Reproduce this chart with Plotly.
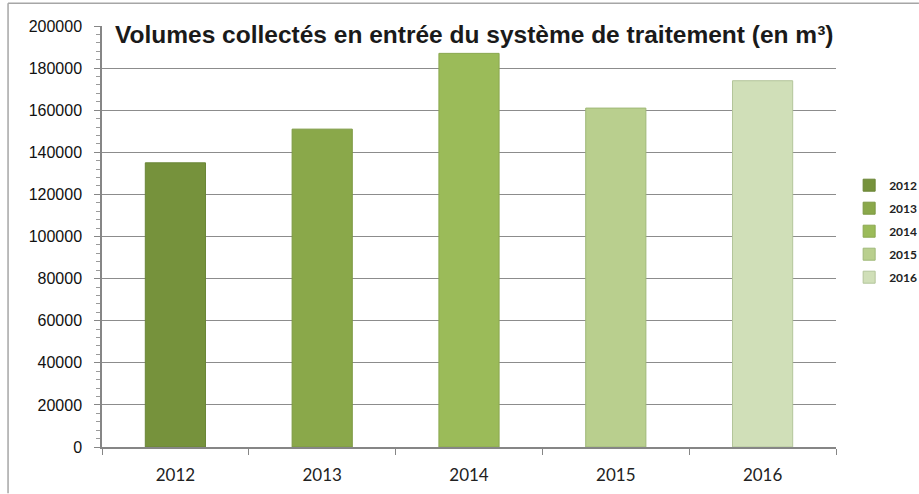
import plotly.graph_objects as go

years = ["2012", "2013", "2014", "2015", "2016"]
volumes = [135000, 151000, 187000, 161000, 174000]
colors = ["#76923C", "#8AA84A", "#9BBB59", "#B9CF8E", "#D0DFB8"]
edge_colors = ["#6A8536", "#7C9842", "#8BA850", "#9FB878", "#B3C59A"]
title_text = "Volumes collectés en entrée du système de traitement (en m³)"
y_ticks = [0, 20000, 40000, 60000, 80000, 100000, 120000, 140000, 160000, 180000, 200000]

fig = go.Figure()
for i, yr in enumerate(years):
    fig.add_trace(go.Bar(
        x=[yr], y=[volumes[i]], name=yr, width=0.41,
        marker=dict(color=colors[i], line=dict(color=edge_colors[i], width=1)),
        legendgroup=yr,
    ))

fig.update_layout(
    width=919, height=494,
    margin=dict(l=102, r=83, t=26, b=47, autoexpand=False),
    paper_bgcolor="white", plot_bgcolor="white",
    barmode="overlay",
    showlegend=True,
    legend=dict(xref="container", yref="container",
                x=0.924, y=0.532, xanchor="left", yanchor="middle",
                font=dict(family="Lato", size=12, color="#222", weight="bold"),
                tracegroupgap=4, itemwidth=30, bgcolor="rgba(0,0,0,0)"),
    font=dict(family="Liberation Sans", color="#111"),
)
fig.update_xaxes(
    type="category", categoryorder="array", categoryarray=years,
    automargin=False,
    showline=True, linecolor="#868686", linewidth=1.5,
    ticks="outside", tickson="boundaries", ticklen=6, tickcolor="#868686",
    tickfont=dict(family="Lato", size=17, color="#222"),
    ticklabelstandoff=12,
    showgrid=False, range=[-0.5, 4.5],
)
fig.update_yaxes(
    range=[0, 200000], tickvals=y_ticks, ticktext=[str(v) for v in y_ticks],
    automargin=False,
    showline=True, linecolor="#868686", linewidth=1.5,
    ticks="outside", ticklen=6, tickcolor="#868686",
    minor=dict(dtick=4000, ticks="outside", ticklen=4, tickcolor="#9a9a9a"),
    showgrid=True, gridcolor="#8c8c8c", gridwidth=1,
    tickfont=dict(family="Liberation Sans", size=16, color="#111"),
    ticklabelstandoff=9,
)
fig.add_annotation(
    text="<b>" + title_text + "</b>", xref="paper", yref="paper",
    x=0.507, y=0.979, xanchor="center", yanchor="middle", showarrow=False,
    font=dict(family="Liberation Sans", size=24.5, color="#1a1a1a"),
)
# outer chart frame (left and top edges)
fig.add_shape(type="line", xref="paper", yref="paper",
              x0=-0.128, x1=1.113, y0=1.054, y1=1.054,
              line=dict(color="#a6a6a6", width=1.5))
fig.add_shape(type="line", xref="paper", yref="paper",
              x0=-0.128, x1=-0.128, y0=1.054, y1=-0.11,
              line=dict(color="#a6a6a6", width=1.5))

fig.write_html("out.html")
